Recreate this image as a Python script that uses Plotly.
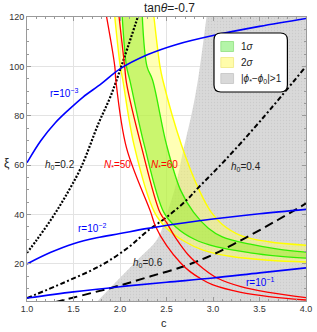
import plotly.graph_objects as go

# ---------------- axes ----------------
C_RANGE = [1.0, 4.0]
XI_RANGE = [5, 120]
X_TICKVALS = [1.0, 1.5, 2.0, 2.5, 3.0, 3.5, 4.0]
X_TICKTEXT = ["1.0", "1.5", "2.0", "2.5", "3.0", "3.5", "4.0"]
Y_TICKVALS = [20, 40, 60, 80, 100, 120]

# ---------------- data ----------------
# 2-sigma band (yellow) boundaries
y1_c = [1.944, 2.003, 2.03, 2.15, 2.37, 2.5, 2.7, 2.9, 3.2, 3.6, 4.0]
y1_xi = [120, 100, 94.5, 68.3, 41, 34.5, 29, 25.5, 23, 21.5, 20.8]
y2_c = [2.365, 2.43, 2.46, 2.66, 2.85, 2.98, 3.1, 3.3, 3.6, 4.0]
y2_xi = [120, 100, 94.5, 68.3, 50, 41, 36, 31.5, 29, 27.6]
# 1-sigma band (green) boundaries
g1_c = [2.024, 2.07, 2.105, 2.26, 2.47, 2.6, 2.8, 3.03, 3.4, 3.7, 4.0]
g1_xi = [120, 100, 94.5, 68.3, 41, 35, 30, 27, 24.5, 23.2, 22.4]
g2_c = [2.24, 2.29, 2.35, 2.50, 2.65, 2.79, 2.95, 3.1, 3.4, 3.7, 4.0]
g2_xi = [120, 100, 94.5, 68.3, 50, 41, 34.5, 31, 28, 26, 24.8]
# |phi*-phi0|>1 region, left boundary
gray_c = [1.76, 1.98, 2.19, 2.4, 2.5, 2.6, 2.68, 2.78, 2.84, 2.93]
gray_xi = [5, 13.6, 21.7, 30, 40, 52, 66, 82.5, 95, 120]
# N* = 50, 60 (red)
n50_c = [1.856, 1.944, 1.955, 2.07, 2.33, 2.38, 2.5, 2.65, 2.75, 2.87, 3.0, 3.3, 3.6, 4.0]
n50_xi = [120, 100, 94.5, 67, 41, 35.4, 27.5, 20.5, 17, 14, 11.5, 8.5, 6.8, 5.4]
n60_c = [1.99, 2.05, 2.07, 2.235, 2.43, 2.5, 2.6, 2.75, 2.9, 3.05, 3.3, 3.6, 4.0]
n60_xi = [120, 100, 93.2, 66.8, 40.8, 36.8, 30.5, 23, 18, 14.2, 10.8, 8.5, 6.4]
# r = 1e-3, 1e-2, 1e-1 (blue)
r3_c = [1.0, 1.15, 1.3, 1.45, 1.6, 1.8, 2.0, 2.3, 2.6, 3.0, 3.5, 4.0]
r3_xi = [61, 70, 77, 82.5, 87.5, 93, 99, 104.8, 108.8, 112.5, 116.2, 119.4]
r2_c = [1.0, 1.25, 1.5, 1.75, 2.0, 2.3, 2.7, 3.0, 3.5, 4.0]
r2_xi = [20.0, 24.6, 28.2, 30.6, 32.3, 34.4, 36.7, 38.2, 40.3, 42.1]
r1_c = [1.0, 1.5, 2.0, 2.5, 3.0, 3.5, 4.0]
r1_xi = [6.2, 8.7, 10.8, 12.6, 14.3, 16.4, 18.4]
# h0 = 0.2, 0.4, 0.6 (black)
h02_c = [1.0, 1.1, 1.25, 1.4, 1.58, 1.77, 1.9, 2.05, 2.2]
h02_xi = [24.5, 29.5, 37.5, 46.5, 59, 77, 88, 104, 121]
h04_c = [1.0, 1.4, 1.8, 2.1, 2.29, 2.52, 2.72, 2.84, 3.13, 3.52, 4.0]
h04_xi = [6.2, 12.5, 19.5, 27, 33.2, 39.5, 46, 50.8, 62, 78.4, 100]
h06_c = [1.3, 1.7, 2.0, 2.33, 2.7, 3.0, 3.37, 3.7, 4.0]
h06_xi = [4.5, 8.3, 11.3, 15, 19.2, 23.8, 31, 37.9, 44.5]

# ---------------- styles ----------------
FONT = "Liberation Sans, Arial, sans-serif"
YEL_LINE = "#ffff00"
GRN_LINE = "#33ee00"
YEL_FILL = "rgba(255,255,90,0.45)"
GRN_FILL = "rgba(150,238,40,0.5)"
GRAY_FILL = "#d9d9d9"

fig = go.Figure()

def line(c, xi, color, width, dash=None, **kw):
    fig.add_trace(go.Scatter(
        x=c, y=xi, mode="lines", hoverinfo="skip", showlegend=False,
        line=dict(color=color, width=width, dash=dash, shape="spline", smoothing=1.0), **kw))

# gray region: boundary + right edge of the frame
line(gray_c, gray_xi, "rgba(0,0,0,0)", 0)
fig.add_trace(go.Scatter(
    x=[C_RANGE[1], C_RANGE[1]], y=[XI_RANGE[0], XI_RANGE[1]], mode="lines",
    hoverinfo="skip", showlegend=False, line=dict(width=0),
    fill="tonexty", fillcolor=GRAY_FILL,
    fillpattern=dict(shape=".", fgcolor="#bdbdbd", bgcolor=GRAY_FILL, size=3, solidity=0.15)))

# 2 sigma band
line(y1_c, y1_xi, "rgba(0,0,0,0)", 0)
line(y2_c, y2_xi, "rgba(0,0,0,0)", 0, fill="tonexty", fillcolor=YEL_FILL)
# 1 sigma band
line(g1_c, g1_xi, "rgba(0,0,0,0)", 0)
line(g2_c, g2_xi, "rgba(0,0,0,0)", 0, fill="tonexty", fillcolor=GRN_FILL)

# boundary lines
line(y1_c, y1_xi, YEL_LINE, 1.4)
line(y2_c, y2_xi, YEL_LINE, 1.4)
line(g1_c, g1_xi, GRN_LINE, 1.3)
line(g2_c, g2_xi, GRN_LINE, 1.3)

# h0 lines
line(h02_c, h02_xi, "black", 2.2, dash="2px,1.6px")
line(h04_c, h04_xi, "black", 2.0, dash="5px,2.5px,2px,2.5px")
line(h06_c, h06_xi, "black", 2.0, dash="9px,5px")

# red N* lines
line(n50_c, n50_xi, "#ff0000", 1.3)
line(n60_c, n60_xi, "#ff0000", 1.3)

# blue r lines
line(r3_c, r3_xi, "#0000ff", 1.6)
line(r2_c, r2_xi, "#0000ff", 1.6)
line(r1_c, r1_xi, "#0000ff", 1.6)

# ---------------- labels ----------------
def label(x, y, text, color, size=10):
    fig.add_annotation(x=x, y=y, xref="x", yref="y", text=text, showarrow=False,
                       font=dict(family=FONT, size=size, color=color),
                       xanchor="center", yanchor="middle")

label(1.40, 89.4, "r=10<sup>−3</sup>", "#0000ff")
label(1.70, 34.7, "r=10<sup>−2</sup>", "#0000ff")
label(3.50, 12.8, "r=10<sup>−1</sup>", "#0000ff")
label(1.36, 60.2, "<i>h</i><sub>0</sub>=0.2", "#222222")
label(3.35, 59.4, "<i>h</i><sub>0</sub>=0.4", "#222222")
label(2.30, 20.4, "<i>h</i><sub>0</sub>=0.6", "#222222")
label(1.97, 60.2, "<i>N</i><sub>*</sub>=50", "#ff0000")
label(2.48, 59.9, "<i>N</i><sub>*</sub>=60", "#ff0000")

# ---------------- plot geometry (px) ----------------
W, H = 317, 332
ML, MR, MT, MB = 27, 5, 17, 31
PW, PH = W - ML - MR, H - MT - MB

def px_x(px):
    return (px - ML) / PW

def px_y(py):
    return (H - MB - py) / PH

# title and axis titles
fig.add_annotation(x=px_x(173), y=px_y(8), xref="paper", yref="paper", showarrow=False,
                   text="tan<i>θ</i>=-0.7", font=dict(family=FONT, size=12, color="#222222"),
                   xanchor="center", yanchor="middle")
fig.add_annotation(x=px_x(7), y=px_y(163), xref="paper", yref="paper", showarrow=False,
                   text="ξ", font=dict(family=FONT, size=12, color="#222222"),
                   xanchor="center", yanchor="middle")
fig.add_annotation(x=px_x(167), y=px_y(323), xref="paper", yref="paper", showarrow=False,
                   text="c", font=dict(family=FONT, size=11, color="#222222"),
                   xanchor="center", yanchor="middle")

# legend (rounded box, swatches, text)
bx0, bx1, by0, by1, rad = 218, 293, 33, 92, 7
rx, ry = rad / PW, rad / PH
X0, X1, Y0, Y1 = px_x(bx0), px_x(bx1), px_y(by1), px_y(by0)
path = (f"M{X0+rx},{Y0} L{X1-rx},{Y0} Q{X1},{Y0} {X1},{Y0+ry} L{X1},{Y1-ry} "
        f"Q{X1},{Y1} {X1-rx},{Y1} L{X0+rx},{Y1} Q{X0},{Y1} {X0},{Y1-ry} "
        f"L{X0},{Y0+ry} Q{X0},{Y0} {X0+rx},{Y0} Z")
fig.add_shape(type="path", path=path, xref="paper", yref="paper",
              fillcolor="white", line=dict(color="black", width=1.2), layer="above")

leg_items = [("1<i>σ</i>", "#b4f5a8", "#8fe07f", 46.5),
             ("2<i>σ</i>", "#fffcaa", "#f0e880", 62.5),
             ("|<i>ϕ</i><sub>*</sub>−<i>ϕ</i><sub>0</sub>|>1", "#d9d9d9", "#c4c4c4", 78.5)]
for txt, fc, lc, cy in leg_items:
    fig.add_shape(type="rect", xref="paper", yref="paper",
                  x0=px_x(225), x1=px_x(238), y0=px_y(cy + 5), y1=px_y(cy - 5),
                  fillcolor=fc, line=dict(color=lc, width=0.8), layer="above")
    fig.add_annotation(x=px_x(244), y=px_y(cy), xref="paper", yref="paper", showarrow=False,
                       text=txt, font=dict(family=FONT, size=10, color="#222222"),
                       xanchor="left", yanchor="middle")

axis_common = dict(
    showline=True, linecolor="#9a9a9a", linewidth=1, mirror="ticks",
    ticks="inside", ticklen=4, tickcolor="#9a9a9a", tickwidth=0.8,
    showgrid=True, gridcolor="#e3e3e3", gridwidth=1, zeroline=False,
    tickfont=dict(family=FONT, size=9, color="#333333"),
    ticklabeloverflow="allow",
)

fig.update_xaxes(range=C_RANGE, tickvals=X_TICKVALS, ticktext=X_TICKTEXT,
                 ticklabelstandoff=-1,
                 minor=dict(ticks="inside", ticklen=2, dtick=0.1, tickcolor="#9a9a9a", showgrid=False),
                 **axis_common)
fig.update_yaxes(range=XI_RANGE, tickvals=Y_TICKVALS,
                 minor=dict(ticks="inside", ticklen=2, dtick=5, tickcolor="#9a9a9a", showgrid=False),
                 **axis_common)

fig.update_layout(
    width=W, height=H, margin=dict(l=ML, r=MR, t=MT, b=MB, pad=0),
    paper_bgcolor="white", plot_bgcolor="white", showlegend=False,
    font=dict(family=FONT),
)

fig.write_html("out.html", config={"displayModeBar": False},
               post_script="document.body.style.margin='0px';document.body.style.overflow='hidden';")
